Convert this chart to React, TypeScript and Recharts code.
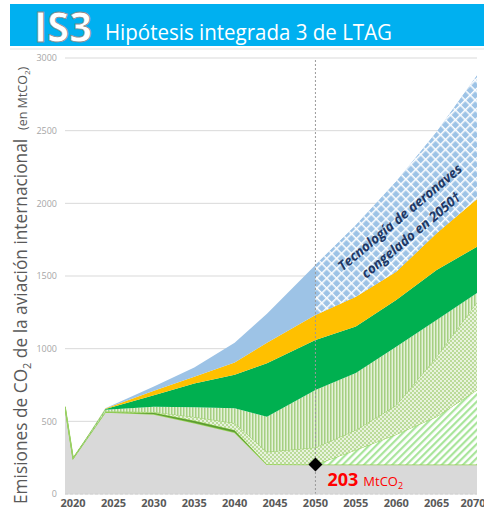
import { AreaChart, Area, XAxis, YAxis, CartesianGrid, ReferenceLine, ReferenceDot } from "recharts";

// years (kinks of the wedges)
const years = [2019, 2020, 2024, 2030, 2035, 2040, 2044, 2050, 2055, 2060, 2065, 2070];

// wedge thicknesses in MtCO2, bottom to top
const residual = [600, 245, 565, 550, 490, 425, 205, 203, 203, 203, 203, 203];
const darkBand = [0, 0, 0, 10, 15, 15, 0, 0, 0, 0, 0, 0];
const diagHatch = [0, 0, 0, 0, 0, 0, 0, 0, 100, 207, 329, 513];
const dotted = [0, 0, 5, 5, 25, 48, 85, 117, 137, 200, 413, 604];
const vertStripes = [0, 0, 10, 35, 67, 102, 242, 396, 392, 404, 252, 63];
const green = [0, 0, 5, 80, 163, 230, 368, 344, 320, 321, 344, 319];
const yellow = [0, 0, 3, 30, 46, 85, 140, 172, 206, 195, 254, 328];
const blue = [0, 0, 2, 30, 64, 135, 200, 344, 492, 620, 695, 850];

const xTicks = [2020, 2025, 2030, 2035, 2040, 2045, 2050, 2055, 2060, 2065, 2070];
const yTicks = [0, 500, 1000, 1500, 2000, 2500, 3000];
const frozenYear = 2050;
const residual2050 = 203;

const data = years.map((year, i) => {
  const below =
    residual[i] + darkBand[i] + diagHatch[i] + dotted[i] + vertStripes[i] + green[i] + yellow[i];
  return {
    year,
    residual: residual[i],
    darkBand: darkBand[i],
    diagHatch: diagHatch[i],
    dotted: dotted[i],
    vertStripes: vertStripes[i],
    green: green[i],
    yellow: yellow[i],
    blue: blue[i],
    blueFrozen: year >= frozenYear ? [below, below + blue[i]] : null,
  };
});

const FONT = "'Open Sans', 'Noto Sans', sans-serif";

const Diamond = (props: any) => {
  const { cx, cy } = props;
  return (
    <g>
      <path d={`M${cx} ${cy - 7}L${cx + 7} ${cy}L${cx} ${cy + 7}L${cx - 7} ${cy}Z`} fill="#000" />
      <text x={cx + 12} y={cy + 22} fill="#FF0000" fontFamily={FONT}>
        <tspan fontSize={18} fontWeight={700}>
          {residual2050}
        </tspan>
        <tspan fontSize={13} dx={5}>
          MtCO
        </tspan>
        <tspan fontSize={9} dy={3}>
          2
        </tspan>
      </text>
    </g>
  );
};

const App = () => {
  return (
    <div style={{ position: "absolute", left: 0, top: 0, width: 484, height: 510, fontFamily: FONT, background: "#fff" }}>
      <AreaChart width={484} height={510} data={data} margin={{ top: 58, right: 7, bottom: 0, left: 15 }}>
        <defs>
          <pattern id="blueGrid" width="7" height="7" patternUnits="userSpaceOnUse" patternTransform="rotate(45)">
            <rect width="7" height="7" fill="#9DC3E6" />
            <rect width="7" height="1.5" fill="#fff" />
            <rect width="1.5" height="7" fill="#fff" />
          </pattern>
          <pattern id="vStripes" width="3" height="3" patternUnits="userSpaceOnUse">
            <rect width="3" height="3" fill="#E4F1D8" />
            <rect width="1.5" height="3" fill="#A5CF82" />
          </pattern>
          <pattern id="dots" width="4" height="4" patternUnits="userSpaceOnUse">
            <rect width="4" height="4" fill="#BBDB9A" />
            <circle cx="1" cy="1" r="0.9" fill="#fff" />
            <circle cx="3" cy="3" r="0.9" fill="#fff" />
          </pattern>
          <pattern id="diag" width="5" height="5" patternUnits="userSpaceOnUse" patternTransform="rotate(45)">
            <rect width="5" height="5" fill="#fff" />
            <rect width="2.2" height="5" fill="#A9E59B" />
          </pattern>
        </defs>
        <CartesianGrid vertical={false} stroke="#d9d9d9" />
        <XAxis
          dataKey="year"
          type="number"
          domain={[2019, 2070]}
          ticks={xTicks}
          allowDataOverflow
          height={16}
          tickLine={false}
          tickSize={0}
          tickMargin={5}
          axisLine={{ stroke: "#cfcfcf", strokeDasharray: "3 2" }}
          tick={{ fontSize: 11, fontWeight: 700, fill: "#595959", fontFamily: FONT }}
        />
        <YAxis
          type="number"
          domain={[0, 3000]}
          ticks={yTicks}
          width={50}
          axisLine={false}
          tickLine={false}
          tickSize={0}
          tickMargin={8}
          tick={{ fontSize: 9, fill: "#a6a6a6", fontFamily: FONT }}
        />
        <Area type="linear" dataKey="residual" stackId="s" fill="#D9D9D9" fillOpacity={1} stroke="#92D050" strokeWidth={1.5} isAnimationActive={false} />
        <Area type="linear" dataKey="darkBand" stackId="s" fill="#5B9A32" fillOpacity={1} stroke="none" isAnimationActive={false} />
        <Area type="linear" dataKey="diagHatch" stackId="s" fill="url(#diag)" fillOpacity={1} stroke="#92D050" strokeWidth={1} isAnimationActive={false} />
        <Area type="linear" dataKey="dotted" stackId="s" fill="url(#dots)" fillOpacity={1} stroke="#9BCF6A" strokeWidth={1} isAnimationActive={false} />
        <Area type="linear" dataKey="vertStripes" stackId="s" fill="url(#vStripes)" fillOpacity={1} stroke="none" isAnimationActive={false} />
        <Area type="linear" dataKey="green" stackId="s" fill="#00B050" fillOpacity={1} stroke="none" isAnimationActive={false} />
        <Area type="linear" dataKey="yellow" stackId="s" fill="#FFC000" fillOpacity={1} stroke="none" isAnimationActive={false} />
        <Area type="linear" dataKey="blue" stackId="s" fill="#9DC3E6" fillOpacity={1} stroke="none" isAnimationActive={false} />
        <Area type="linear" dataKey="blueFrozen" fill="url(#blueGrid)" fillOpacity={1} stroke="none" isAnimationActive={false} />
        <ReferenceLine x={frozenYear} stroke="#9a9a9a" strokeDasharray="2 2" />
        <ReferenceDot x={frozenYear} y={residual2050} r={7} shape={Diamond} />
      </AreaChart>

      <svg width={484} height={510} style={{ position: "absolute", left: 0, top: 0, pointerEvents: "none" }} fontFamily={FONT}>
        <rect x={10} y={4} width={474} height={42} fill="#00B0F0" />
        <line x1={10} x2={484} y1={49} y2={49} stroke="#e3e3e3" />
        <text x={34} y={42} fontSize={42} fontWeight={700} fill="#fff" stroke="#8a8a8a" strokeWidth={0.8} textLength={58} lengthAdjust="spacingAndGlyphs">
          IS3
        </text>
        <text x={105} y={40} fontSize={21} fill="#fff" textLength={287} lengthAdjust="spacingAndGlyphs">
          Hipótesis integrada 3 de LTAG
        </text>

        <text x={27} y={504} transform="rotate(-90 27 504)" fontSize={17.3} fill="#595959">
          Emisiones de CO
          <tspan fontSize={11} dy={4}>2</tspan>
          <tspan dy={-4}> de la aviación internacional</tspan>
        </text>
        <text x={27} y={130} transform="rotate(-90 27 130)" fontSize={12.5} fill="#595959">
          (en MtCO<tspan fontSize={8} dy={3}>2</tspan><tspan dy={-3}>)</tspan>
        </text>

        <g fill="#1F3864" fontWeight={700} fontStyle="italic" fontSize={13.5} textAnchor="middle">
          <text transform="translate(403 221) rotate(-40)">Tecnología de aeronaves</text>
          <text transform="translate(414 239) rotate(-40)">congelado en 2050†</text>
        </g>
      </svg>
    </div>
  );
};

export default App;
